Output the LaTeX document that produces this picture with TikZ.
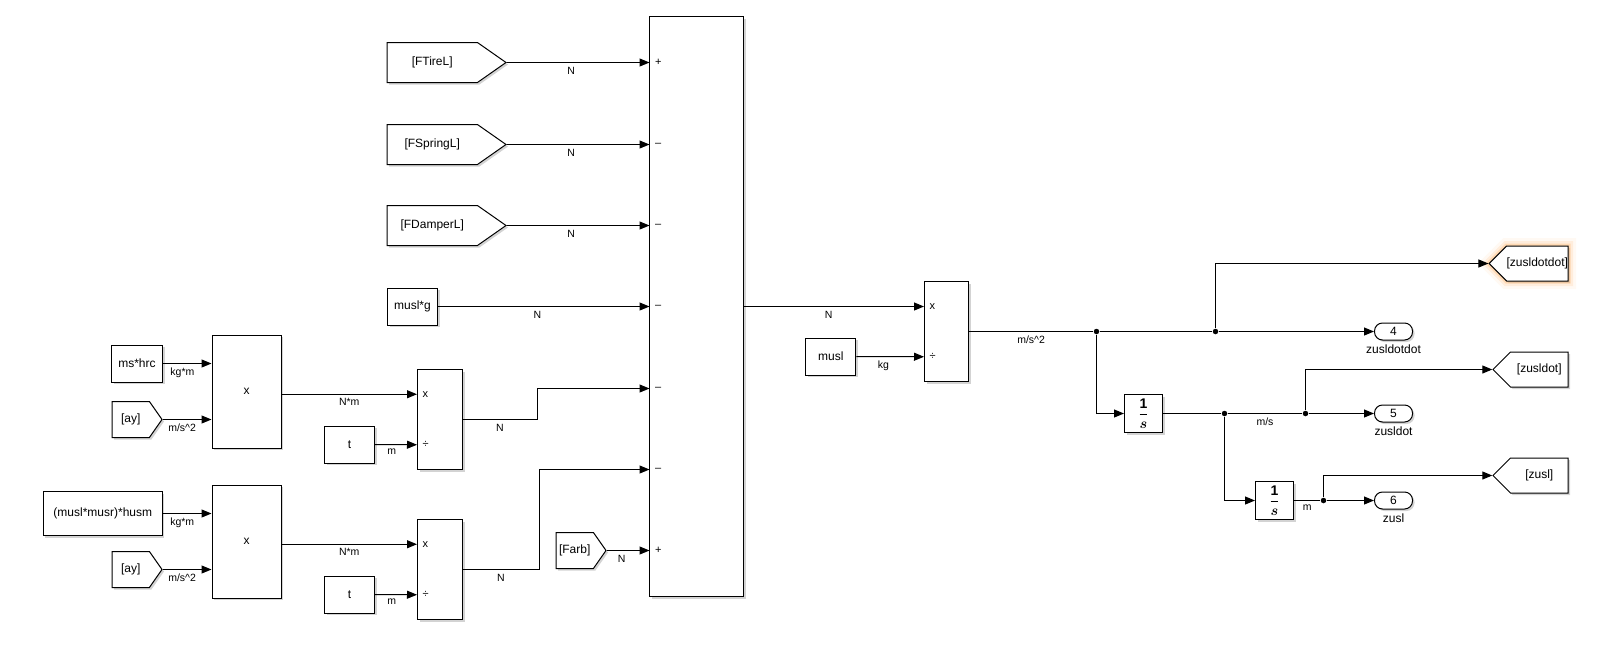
\documentclass[tikz,border=0pt]{standalone}
\usepackage{amsmath}
\usepackage{fontspec}
\setmainfont{Liberation Sans}
\usepackage{tikz}
\usetikzlibrary{
  arrows.meta,
  positioning,
  calc,
  shapes.symbols,
  shadows
}

\begin{document}
\begin{tikzpicture}[
    x=1pt,
    y=-1pt,
    font=\fontsize{12}{14}\selectfont,
    >={Triangle[length=10pt,width=8pt]},
    blk/.style={
      draw,
      fill=white,
      inner sep=0pt,
      drop shadow={shadow xshift=2pt,shadow yshift=-2pt,opacity=0.35}
    },
    fromtag/.style={
      blk,
      shape=signal,
      signal to=east,
      anchor=west
    },
    gototag/.style={
      blk,
      shape=signal,
      signal to=west,
      signal pointer angle=90,
      anchor=east,
      minimum width=75pt,
      minimum height=35pt
    },
    outport/.style={
      blk,
      rounded corners=8pt,
      minimum width=38pt,
      minimum height=17pt
    },
    integ/.style={
      blk,
      minimum width=38pt,
      minimum height=38pt,
      font=\fontsize{14}{14}\selectfont
    },
    unit/.style={
      below,
      inner sep=4pt,
      font=\fontsize{10.5}{12}\selectfont
    },
    outname/.style={
      inner sep=1pt
    },
    port/.style={
      anchor=west,
      inner sep=0pt,
      font=\fontsize{11}{12}\selectfont
    },
    dot/.style={
      circle,
      fill,
      inner sep=0pt,
      minimum size=5.5pt
    },
    every path/.style={line width=1pt}
  ]
  \useasboundingbox (0,0) rectangle (1620,646);

  % ========== Force inputs ==========
  \node[fromtag,signal pointer angle=70,minimum width=119pt,minimum height=40pt]
    (ftire) at (386.5,62.5) {[FTireL]};
  \node[fromtag,signal pointer angle=70,minimum width=119pt,minimum height=40pt]
    (fspring) at (386.5,144.5) {[FSpringL]};
  \node[fromtag,signal pointer angle=70,minimum width=119pt,minimum height=40pt]
    (fdamper) at (386.5,225.5) {[FDamperL]};
  \node[blk,minimum width=50pt,minimum height=37pt]
    (muslg) at (412.5,306.5) {musl*g};

  % ========== Sum block ==========
  \node[blk,minimum width=94pt,minimum height=580pt] (sum) at (696.5,306.5) {};
  \foreach \y [count=\i] in {62.5,144.5,225.5,306.5,388.5,469.5,550.5}
    \coordinate (p\i) at (649.5,\y);
  \foreach \i/\s in {1/+,2/–,3/–,4/–,5/–,6/–,7/+}
    \node[port] at ($(p\i)+(5,0)$) {\s};

  % ========== Roll moment paths ==========
  \node[blk,minimum width=51pt,minimum height=37pt]
    (mshrc) at (137,363.5) {ms*hrc};
  \node[fromtag,signal pointer angle=110,minimum width=50pt,minimum height=36pt]
    (ay1) at (111.5,419.5) {[ay]};
  \node[blk,minimum width=69pt,minimum height=113pt] (prod1) at (246.5,391.5) {x};
  \node[blk,minimum width=50pt,minimum height=37pt] (t1) at (349.5,444.5) {t};
  \node[blk,minimum width=45pt,minimum height=100pt] (div1) at (440,419.5) {};

  \node[blk,minimum width=119pt,minimum height=44pt]
    (mhusm) at (102.8,513.5) {(musl*musr)*husm};
  \node[fromtag,signal pointer angle=110,minimum width=50pt,minimum height=36pt]
    (ay2) at (111.5,569.5) {[ay]};
  \node[blk,minimum width=69pt,minimum height=113pt] (prod2) at (246.5,541.5) {x};
  \node[blk,minimum width=50pt,minimum height=37pt] (t2) at (349.5,594.5) {t};
  \node[blk,minimum width=45pt,minimum height=100pt] (div2) at (440,569.5) {};

  \coordinate (d1a) at ($(div1.north west)!0.25!(div1.south west)$);
  \coordinate (d1b) at ($(div1.north west)!0.75!(div1.south west)$);
  \coordinate (d2a) at ($(div2.north west)!0.25!(div2.south west)$);
  \coordinate (d2b) at ($(div2.north west)!0.75!(div2.south west)$);
  \node[port] at ($(d1a)+(5,0)$) {x};
  \node[port] at ($(d1b)+(5,0)$) {÷};
  \node[port] at ($(d2a)+(5,0)$) {x};
  \node[port] at ($(d2b)+(5,0)$) {÷};

  \node[fromtag,signal pointer angle=110,minimum width=50pt,minimum height=36pt]
    (farb) at (555.5,550.5) {[Farb]};

  % ========== Acceleration ==========
  \node[blk,minimum width=44pt,minimum height=100pt] (prod3) at (946.5,331.5) {};
  \coordinate (d3a) at ($(prod3.north west)!0.25!(prod3.south west)$);
  \coordinate (d3b) at ($(prod3.north west)!0.75!(prod3.south west)$);
  \node[port] at ($(d3a)+(5,0)$) {x};
  \node[port] at ($(d3b)+(5,0)$) {÷};
  \node[blk,minimum width=50pt,minimum height=37pt] (musl) at (830.8,356.5) {musl};

  \node[integ] (int1) at (1143.5,413.5) {$\displaystyle\frac{\mathbf{1}}{\boldsymbol{s}}$};
  \node[integ] (int2) at (1274.5,500.5) {$\displaystyle\frac{\mathbf{1}}{\boldsymbol{s}}$};

  \node[outport] (out4) at (1393.5,331.5) {4};
  \node[outport] (out5) at (1393.5,413.5) {5};
  \node[outport] (out6) at (1393.5,500.5) {6};
  \node[outname,below=3pt of out4] {zusldotdot};
  \node[outname,below=3pt of out5] {zusldot};
  \node[outname,below=3pt of out6] {zusl};

  \node[gototag,
        preaction={draw=orange!40,line width=16pt,opacity=0.12},
        preaction={draw=orange!50,line width=10pt,opacity=0.2},
        preaction={draw=orange!60,line width=5pt,opacity=0.35}]
    (gdd) at (1568.5,263.5) {[zusldotdot]};
  \node[gototag] (gd) at (1568.5,369.5) {[zusldot]};
  \node[gototag] (gz) at (1568.5,475.5) {[zusl]};

  \node[dot] (j1) at (1096.5,331.5) {};
  \node[dot] (j2) at (1215.5,331.5) {};
  \node[dot] (j3) at (1224.5,413.5) {};
  \node[dot] (j4) at (1305.5,413.5) {};
  \node[dot] (j5) at (1323.5,500.5) {};

  % ========== Signals ==========
  \draw[->] (ftire.east) -- node[unit,pos=.45]{N} (p1);
  \draw[->] (fspring.east) -- node[unit,pos=.45]{N} (p2);
  \draw[->] (fdamper.east) -- node[unit,pos=.45]{N} (p3);
  \draw[->] (muslg.east) -- node[unit,pos=.47]{N} (p4);

  \draw[->] (mshrc.east) -- node[unit,pos=.4]{kg*m} (mshrc.east -| prod1.west);
  \draw[->] (ay1.east) -- node[unit,pos=.4]{m/s\^{}2} (ay1.east -| prod1.west);
  \draw[->] (prod1.east |- d1a) -- node[unit]{N*m} (d1a);
  \draw[->] (t1.east) -- node[unit,pos=.4]{m} (d1b);
  \draw[->] (div1.east) -- node[unit]{N} ++(74,0) |- (p5);

  \draw[->] (mhusm.east) -- node[unit,pos=.4]{kg*m} (mhusm.east -| prod2.west);
  \draw[->] (ay2.east) -- node[unit,pos=.4]{m/s\^{}2} (ay2.east -| prod2.west);
  \draw[->] (prod2.east |- d2a) -- node[unit]{N*m} (d2a);
  \draw[->] (t2.east) -- node[unit,pos=.4]{m} (d2b);
  \draw[->] (div2.east) -- node[unit]{N} ++(76,0) |- (p6);

  \draw[->] (farb.east) -- node[unit,pos=.35]{N} (p7);

  \draw[->] (sum.east) -- node[unit,pos=.47]{N} (sum.east -| prod3.west);
  \draw[->] (musl.east) -- node[unit,pos=.4]{kg} (d3b);

  \draw (prod3.east) -- node[unit]{m/s\^{}2} (j1);
  \draw (j1) -- (j2);
  \draw[->] (j2) -- (out4.west);
  \draw[->] (j2) |- (gdd.west);
  \draw[->] (j1) |- (int1.west);

  \draw (int1.east) -- (j3);
  \draw (j3) -- node[unit]{m/s} (j4);
  \draw[->] (j4) -- (out5.west);
  \draw[->] (j4) |- (gd.west);
  \draw[->] (j3) |- (int2.west);

  \draw (int2.east) -- node[unit]{m} (j5);
  \draw[->] (j5) -- (out6.west);
  \draw[->] (j5) |- (gz.west);
\end{tikzpicture}
\end{document}
